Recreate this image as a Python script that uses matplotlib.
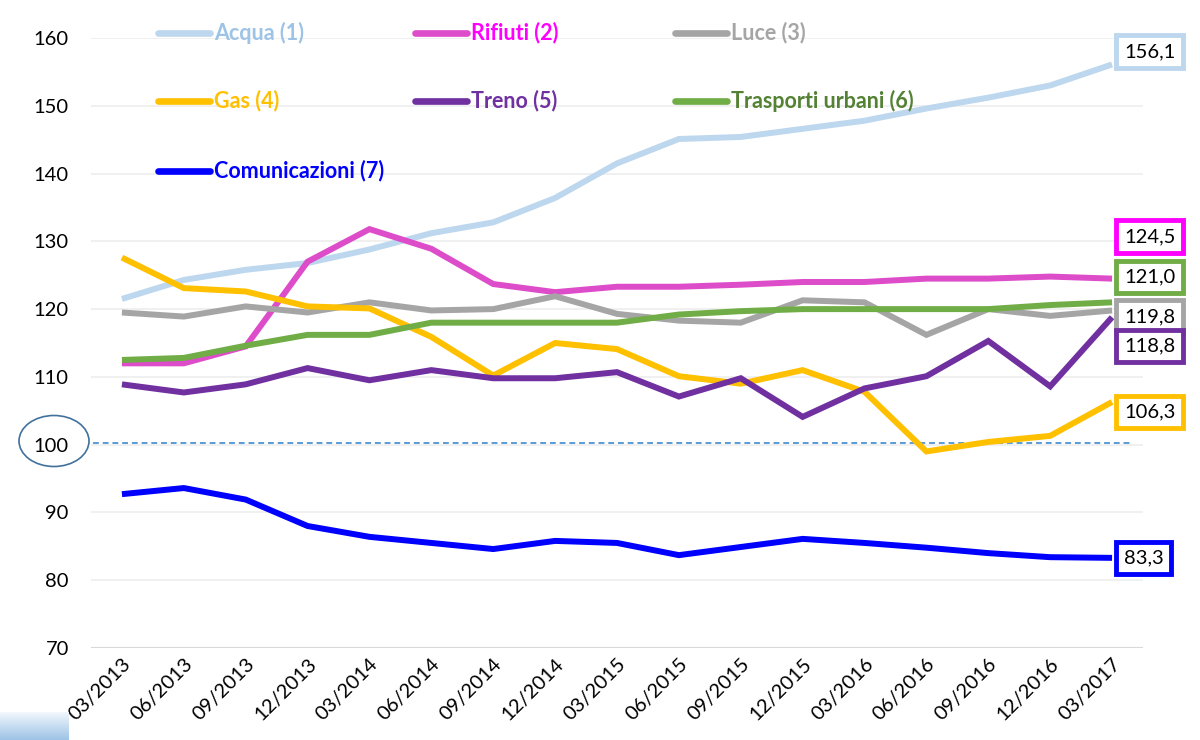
import numpy as np
import matplotlib
matplotlib.use("Agg")
import matplotlib.pyplot as plt
from matplotlib.lines import Line2D
from matplotlib.patches import Ellipse

plt.rcParams['font.family'] = ['Lato', 'DejaVu Sans']

# Quarterly price indices (base = 100)
dates = ['03/2013', '06/2013', '09/2013', '12/2013', '03/2014', '06/2014', '09/2014',
         '12/2014', '03/2015', '06/2015', '09/2015', '12/2015', '03/2016', '06/2016',
         '09/2016', '12/2016', '03/2017']

acqua = [121.5, 124.3, 125.8, 126.8, 128.8, 131.2, 132.8, 136.4, 141.5, 145.1, 145.4,
         146.6, 147.8, 149.6, 151.2, 153.0, 156.1]
rifiuti = [112.0, 112.0, 114.5, 127.0, 131.8, 128.9, 123.7, 122.5, 123.3, 123.3, 123.6,
           124.0, 124.0, 124.5, 124.5, 124.8, 124.5]
luce = [119.5, 118.9, 120.4, 119.5, 121.0, 119.8, 120.0, 121.9, 119.3, 118.3, 118.0,
        121.3, 121.0, 116.2, 120.0, 119.0, 119.8]
gas = [127.6, 123.1, 122.6, 120.4, 120.1, 115.9, 110.2, 115.0, 114.1, 110.1, 109.0,
       111.0, 107.8, 99.0, 100.4, 101.3, 106.3]
treno = [108.9, 107.7, 108.9, 111.3, 109.5, 111.0, 109.8, 109.8, 110.7, 107.1, 109.8,
         104.1, 108.3, 110.1, 115.3, 108.6, 118.8]
trasporti = [112.5, 112.8, 114.6, 116.2, 116.2, 118.0, 118.0, 118.0, 118.0, 119.2, 119.7,
             120.0, 120.0, 120.0, 120.0, 120.6, 121.0]
comunicazioni = [92.7, 93.6, 91.9, 88.0, 86.4, 85.5, 84.6, 85.8, 85.5, 83.7, 84.9,
                 86.1, 85.5, 84.8, 84.0, 83.4, 83.3]

labels = ['Acqua (1)', 'Rifiuti (2)', 'Luce (3)', 'Gas (4)', 'Treno (5)',
          'Trasporti urbani (6)', 'Comunicazioni (7)']
base_level = 100.3

# (values, line colour, legend text colour, label box colour, label offset in px)
series = [
    (acqua, '#BDD7EE', '#9DC3E6', '#BDD7EE', 13),
    (rifiuti, '#DD4CC9', '#FF00FF', '#FF00FF', 42),
    (luce, '#A5A5A5', '#A5A5A5', '#A5A5A5', -6),
    (gas, '#FFC000', '#FFC000', '#FFC000', -10),
    (treno, '#7030A0', '#7030A0', '#7030A0', -29),
    (trasporti, '#70AD47', '#548235', '#70AD47', 25),
    (comunicazioni, '#0000FF', '#0000FF', '#0000FF', 0),
]

W, H = 1200, 740
fig = plt.figure(figsize=(W / 100, H / 100), dpi=100)
ax = fig.add_axes([91 / W, 1 - 648 / H, (1143 - 91) / W, (648 - 38) / H])

x = np.arange(len(dates))
for vals, col, _, _, _ in series:
    ax.plot(x, vals, color=col, lw=4.3, solid_joinstyle='miter', solid_capstyle='butt', zorder=3)

# dashed reference at the base level
ax.plot([-0.47, 16.32], [base_level, base_level], color='#5B9BD5', lw=1.4,
        ls=(0, (3, 2)), zorder=2)

ax.set_xlim(-0.5, len(dates) - 0.5)
ax.set_ylim(70, 160)
ax.set_yticks(range(70, 161, 10))
ax.set_xticks(x)
ax.set_xticklabels(dates, rotation=45, ha='right', va='top', rotation_mode='anchor')
ax.tick_params(axis='both', length=0, labelsize=14.5, colors='#000000')
ax.tick_params(axis='y', pad=16)
ax.tick_params(axis='x', pad=5)
ax.grid(axis='y', color='#EEEEEE', lw=1.2)
ax.set_axisbelow(True)
for s in ax.spines.values():
    s.set_visible(False)
ax.axhline(70, color='#D9D9D9', lw=1.5, zorder=1)

# end-of-series value labels (grey one drawn first so others sit on top)
order = [2, 0, 1, 5, 4, 3, 6]
for z, i in enumerate(order):
    vals, _, _, box, dy = series[i]
    ax.annotate(f'{vals[-1]:.1f}'.replace('.', ','), xy=(x[-1], vals[-1]),
                xytext=(12, dy), textcoords='offset pixels', ha='left', va='center',
                fontsize=14.5, color='black', zorder=10 + z, annotation_clip=False,
                bbox=dict(boxstyle='square,pad=0.38', fc='white', ec=box, lw=3.5))

# legend laid out in a 3-column grid
col_x = [158, 415, 675]
row_y = [33, 101, 171]
for k, (vals, col, tcol, _, _) in enumerate(series):
    r, c = divmod(k, 3)
    x0, y0 = col_x[c], row_y[r]
    fig.add_artist(Line2D([x0 / W, (x0 + 52) / W], [1 - y0 / H, 1 - y0 / H],
                          color=col, lw=4.8, solid_capstyle='round'))
    fig.text((x0 + 56) / W, 1 - y0 / H, labels[k], color=tcol, fontsize=15.5,
             fontweight='bold', va='center', ha='left')

# ring around the 100 tick label
fig.add_artist(Ellipse((54 / W, 1 - 441 / H), 70 / W, 51 / H, fill=False,
                       ec='#41719C', lw=1.2))

# shaded strip in the lower-left corner
cax = fig.add_axes([0, 0, 69 / W, 28 / H])
grad = np.linspace(0, 1, 50)[:, None]
cmap = matplotlib.colors.LinearSegmentedColormap.from_list('g', ['#F2F7FC', '#9DC3E6'])
cax.imshow(grad, aspect='auto', cmap=cmap)
cax.axis('off')

fig.savefig('out.png', dpi=100)
